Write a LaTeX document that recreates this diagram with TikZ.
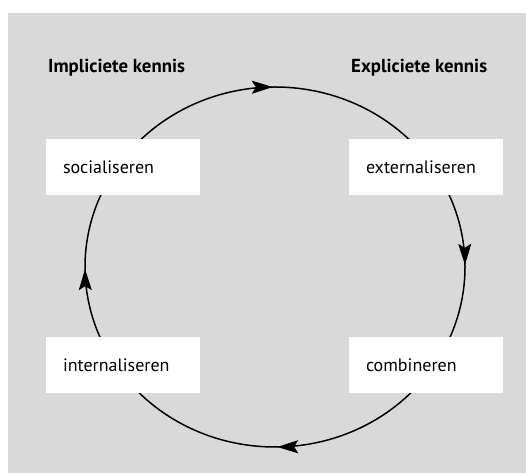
\documentclass[tikz,border=0pt]{standalone}
\usepackage{fontspec}
\setmainfont{PT Sans}
\usetikzlibrary{arrows.meta,decorations.markings}
\definecolor{bggray}{RGB}{217,217,217}
\begin{document}
\begin{tikzpicture}[x=1pt,y=1pt,
  >={Stealth[length=21pt,width=13pt,inset=4pt]},
  box/.style={fill=white, draw=none, minimum height=56pt, text width=120pt,
    align=left, inner xsep=17pt, inner ysep=0pt,
    font=\fontsize{18}{20}\selectfont, text height=13pt, text depth=0pt},
  title/.style={font=\bfseries\fontsize{18.8}{20}\selectfont, anchor=base west, inner sep=0pt},
  cyclepath/.style={line width=1.5pt, postaction=decorate,
    decoration={markings,
      mark=at position 0.121 with {\arrow{>}},
      mark=at position 0.371 with {\arrow{>}},
      mark=at position 0.621 with {\arrow{>}},
      mark=at position 0.871 with {\arrow{>}}}}
  ]
\useasboundingbox (0,0) rectangle (526,473);
\fill[bggray] (8,0) rectangle (526,460);
\coordinate (c) at (275,206);
\draw[cyclepath] (409.35,333.28) arc[start angle=45, end angle=-315, x radius=190, y radius=180];
\node[box] (soc) at (123,306) {socialiseren};
\node[box] (ext) at (426,306) {externaliseren};
\node[box] (int) at (123,107.5) {internaliseren};
\node[box] (com) at (426,107.5) {combineren};
\node[title] (t1) at (48,400) {Impliciete kennis};
\node[title] (t2) at (351,400) {Expliciete kennis};
\end{tikzpicture}
\end{document}
